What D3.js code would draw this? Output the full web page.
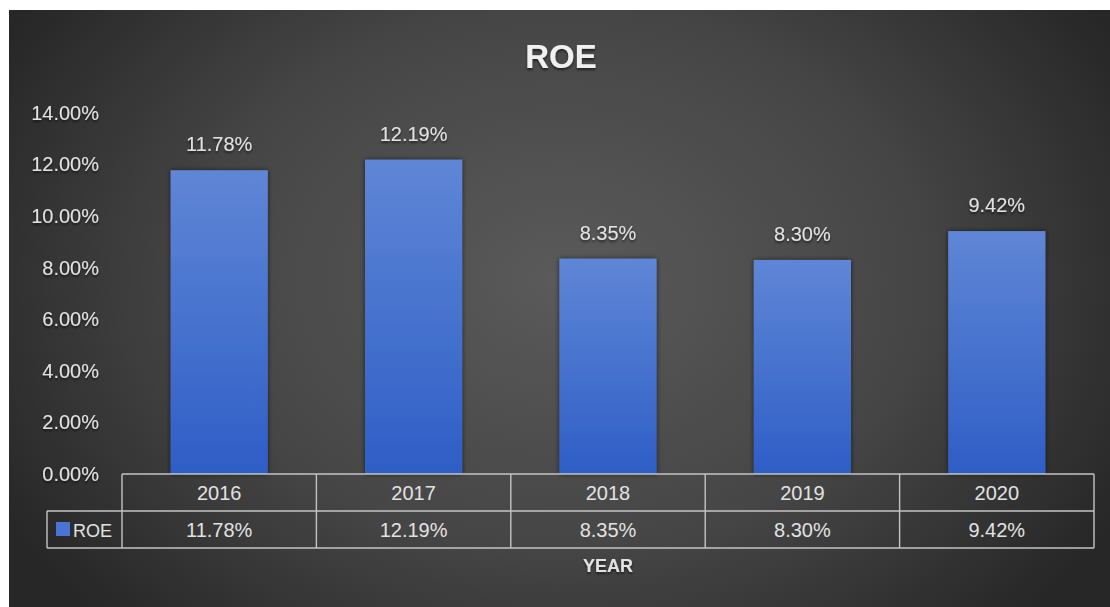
<!DOCTYPE html>
<html>
<head>
<meta charset="utf-8">
<script src="https://cdn.jsdelivr.net/npm/d3@7"></script>
<style>
  html, body { margin: 0; padding: 0; background: #ffffff; }
  svg { display: block; }
  text { font-family: "Liberation Sans", "DejaVu Sans", sans-serif; }
</style>
</head>
<body>
<svg id="chart" width="1110" height="607"></svg>
<script>
// ROE by year
const years = ["2016", "2017", "2018", "2019", "2020"];
const roe = [11.78, 12.19, 8.35, 8.30, 9.42];
const yTicks = [0, 2, 4, 6, 8, 10, 12, 14];
const seriesName = "ROE";
const chartTitle = "ROE";
const xTitle = "YEAR";

const fmt = v => v.toFixed(2) + "%";

const svg = d3.select("#chart");
const defs = svg.append("defs");

// panel background: soft radial light in the middle, dark edges
const bg = defs.append("radialGradient")
  .attr("id", "bgGrad")
  .attr("gradientUnits", "userSpaceOnUse")
  .attr("cx", 560).attr("cy", 280).attr("r", 640)
  .attr("gradientTransform", "translate(560,280) scale(1,0.75) translate(-560,-280)");
bg.append("stop").attr("offset", "0%").attr("stop-color", "#5a5a5a");
bg.append("stop").attr("offset", "55%").attr("stop-color", "#464646");
bg.append("stop").attr("offset", "100%").attr("stop-color", "#272727");

// bar fill: lighter at the top, deeper blue at the bottom
const barGrad = defs.append("linearGradient")
  .attr("id", "barGrad").attr("x1", 0).attr("y1", 0).attr("x2", 0).attr("y2", 1);
barGrad.append("stop").attr("offset", "0%").attr("stop-color", "#5f86d6");
barGrad.append("stop").attr("offset", "100%").attr("stop-color", "#2e5ec6");

const shadow = defs.append("filter").attr("id", "barShadow")
  .attr("x", "-20%").attr("y", "-10%").attr("width", "140%").attr("height", "120%");
shadow.append("feDropShadow").attr("dx", 0).attr("dy", 0)
  .attr("stdDeviation", 2.5).attr("flood-color", "#000").attr("flood-opacity", 0.6);

const textShadow = defs.append("filter").attr("id", "textShadow")
  .attr("x", "-10%").attr("y", "-20%").attr("width", "120%").attr("height", "160%");
textShadow.append("feDropShadow").attr("dx", 0).attr("dy", 2)
  .attr("stdDeviation", 1.2).attr("flood-color", "#000").attr("flood-opacity", 0.55);

svg.append("rect")
  .attr("x", 9).attr("y", 10).attr("width", 1101).attr("height", 597)
  .attr("fill", "url(#bgGrad)");

// scales
const x = d3.scaleBand().domain(years).range([122, 1094])
  .paddingInner(0.5).paddingOuter(0.25);
const y = d3.scaleLinear().domain([0, 14]).range([474, 113]);

const textColor = "#e2e2e2";
const lineColor = "#c4c4c4";
const fs = 20;

// title
svg.append("text")
  .attr("x", 561).attr("y", 68)
  .attr("text-anchor", "middle")
  .attr("font-size", 33).attr("font-weight", "bold")
  .attr("fill", "#f0f0f0")
  .attr("filter", "url(#textShadow)")
  .text(chartTitle);

// y axis labels
const yAxis = svg.append("g")
  .attr("transform", "translate(99,0)")
  .call(d3.axisLeft(y).tickValues(yTicks).tickSize(0).tickPadding(0)
    .tickFormat(d => d.toFixed(2) + "%"));
yAxis.select(".domain").remove();
yAxis.selectAll("text")
  .attr("font-size", fs)
  .attr("font-family", "Liberation Sans, sans-serif")
  .attr("fill", textColor)
  .attr("filter", "url(#textShadow)");

// bars
const rows = years.map((yr, i) => ({ year: yr, value: roe[i] }));
svg.append("g").selectAll("rect")
  .data(rows).join("rect")
  .attr("x", d => x(d.year))
  .attr("y", d => y(d.value))
  .attr("width", x.bandwidth())
  .attr("height", d => y(0) - y(d.value))
  .attr("fill", "url(#barGrad)")
  .attr("filter", "url(#barShadow)");

// value labels above bars
svg.append("g").selectAll("text")
  .data(rows).join("text")
  .attr("x", d => x(d.year) + x.bandwidth() / 2)
  .attr("y", d => y(d.value) - 19)
  .attr("text-anchor", "middle")
  .attr("font-size", fs)
  .attr("fill", textColor)
  .attr("filter", "url(#textShadow)")
  .text(d => fmt(d.value));

// data table under the plot
const tTop = y(0), tMid = 511, tBot = 548, legendLeft = 47;
const [xL, xR] = x.range();
const step = x.step();
const table = svg.append("g")
  .attr("stroke", lineColor).attr("stroke-width", 1.4).attr("fill", "none");

table.append("line").attr("x1", xL).attr("x2", xR).attr("y1", tTop).attr("y2", tTop);
table.append("line").attr("x1", legendLeft).attr("x2", xR).attr("y1", tMid).attr("y2", tMid);
table.append("line").attr("x1", legendLeft).attr("x2", xR).attr("y1", tBot).attr("y2", tBot);
table.append("line").attr("x1", legendLeft).attr("x2", legendLeft).attr("y1", tMid).attr("y2", tBot);
table.selectAll("line.col")
  .data(d3.range(years.length + 1)).join("line")
  .attr("class", "col")
  .attr("x1", i => xL + i * step).attr("x2", i => xL + i * step)
  .attr("y1", tTop).attr("y2", tBot);

const colCenter = yr => x(yr) + x.bandwidth() / 2;

svg.append("g").selectAll("text")
  .data(years).join("text")
  .attr("x", d => colCenter(d))
  .attr("y", (tTop + tMid) / 2 + 7)
  .attr("text-anchor", "middle")
  .attr("font-size", fs)
  .attr("fill", textColor)
  .text(d => d);

svg.append("g").selectAll("text")
  .data(rows).join("text")
  .attr("x", d => colCenter(d.year))
  .attr("y", (tMid + tBot) / 2 + 7)
  .attr("text-anchor", "middle")
  .attr("font-size", fs)
  .attr("fill", textColor)
  .text(d => fmt(d.value));

// legend key inside the table
svg.append("rect")
  .attr("x", 56).attr("y", 522).attr("width", 14).attr("height", 14)
  .attr("fill", "#4a74d4");
svg.append("text")
  .attr("x", 73).attr("y", (tMid + tBot) / 2 + 7)
  .attr("font-size", 18)
  .attr("fill", textColor)
  .text(seriesName);

// x axis title
svg.append("text")
  .attr("x", (xL + xR) / 2).attr("y", 572)
  .attr("text-anchor", "middle")
  .attr("font-size", 18).attr("font-weight", "bold")
  .attr("fill", textColor)
  .attr("filter", "url(#textShadow)")
  .text(xTitle);
</script>
</body>
</html>
